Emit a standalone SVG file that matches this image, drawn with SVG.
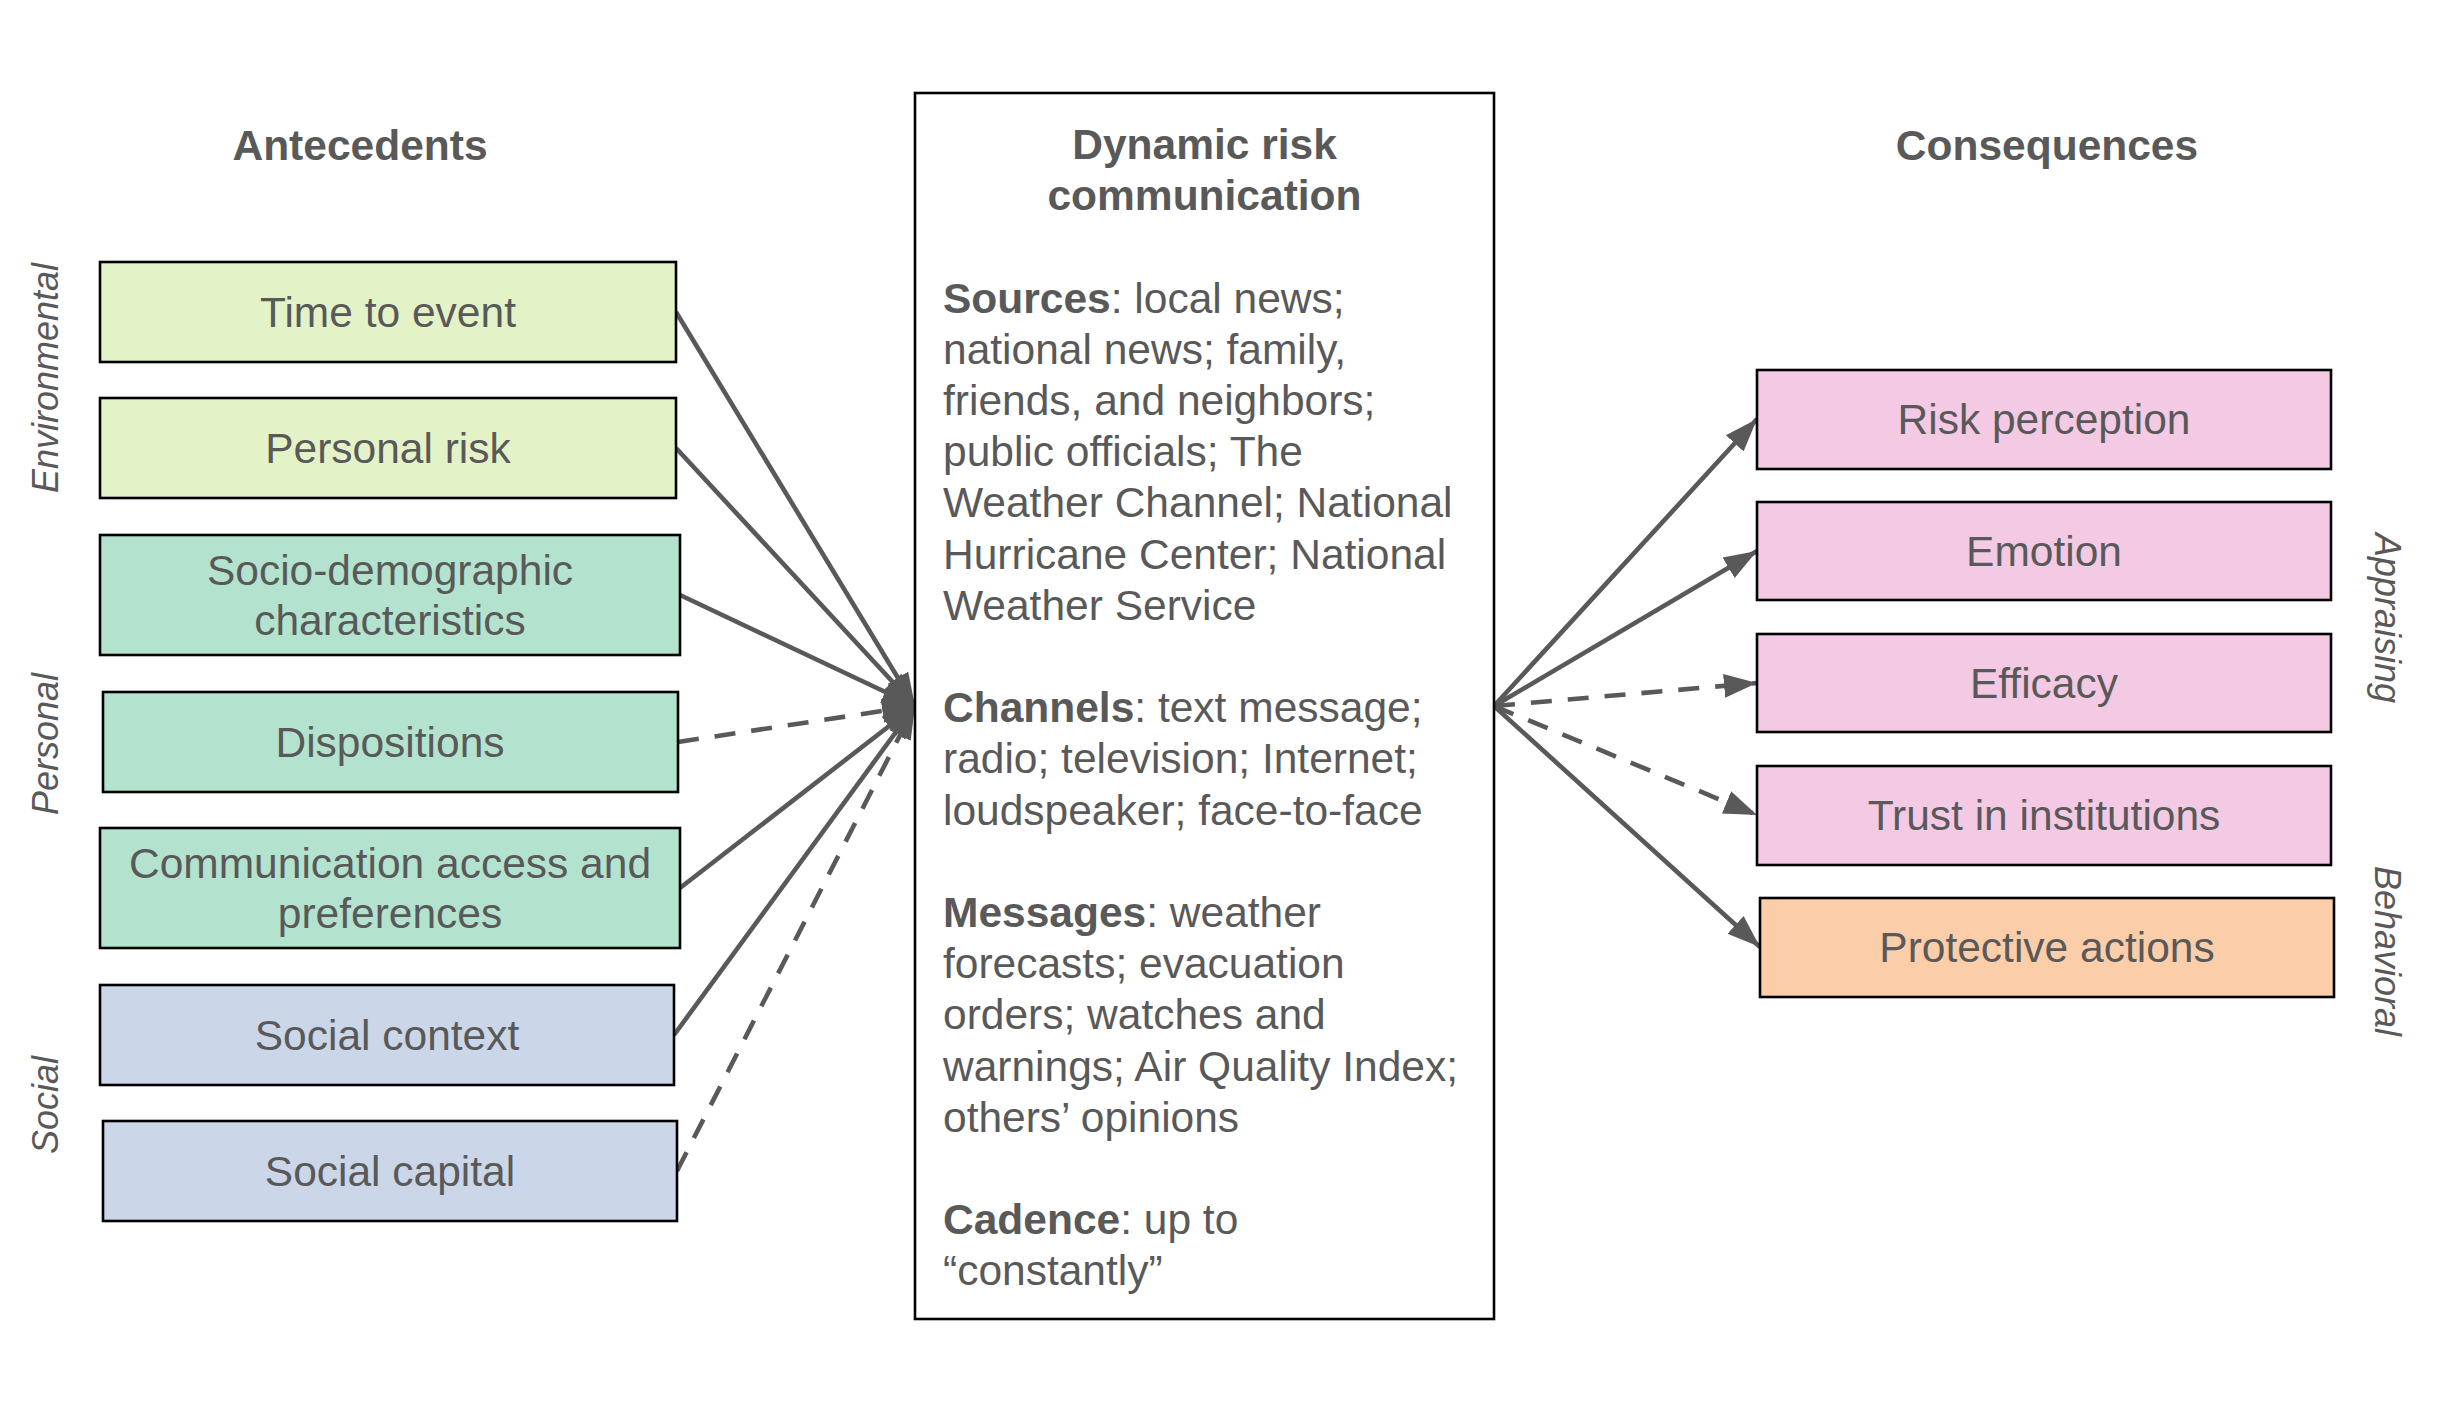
<svg xmlns="http://www.w3.org/2000/svg" width="2441" height="1406" viewBox="0 0 2441 1406">
<style>
  .box { stroke: #000; stroke-width: 2.6; }
  .env { fill: #e4f3c7; }
  .per { fill: #b3e3ce; }
  .soc { fill: #cbd6e8; }
  .app { fill: #f4c9e4; }
  .beh { fill: #fccda9; }
  .t { font-family: "Liberation Sans", Arial, sans-serif; font-size: 42.5px; fill: #595959; }
  .c { text-anchor: middle; }
  .b { font-weight: bold; }
  .lab { font-family: "Liberation Sans", Arial, sans-serif; font-size: 36px; font-style: italic; fill: #595959; text-anchor: middle; }
  .ln { stroke: #595959; stroke-width: 4.6; fill: none; marker-end: url(#ah); }
  .d { stroke-dasharray: 21 16; }
</style>
<defs>
  <marker id="ah" markerUnits="userSpaceOnUse" markerWidth="34" markerHeight="26" refX="33" refY="12" orient="auto" viewBox="0 0 34 24">
    <path d="M0,0 L33,12 L0,24 z" fill="#595959"/>
  </marker>
</defs>
<rect width="2441" height="1406" fill="#fff"/>

<g id="headings">
  <text class="t c b" x="360" y="160">Antecedents</text>
  <text class="t c b" x="2047" y="160">Consequences</text>
</g>

<g id="category-labels">
  <text class="lab" transform="translate(58,378) rotate(-90)">Environmental</text>
  <text class="lab" transform="translate(58,744) rotate(-90)">Personal</text>
  <text class="lab" transform="translate(58,1105) rotate(-90)">Social</text>
  <text class="lab" transform="translate(2375,618) rotate(90)">Appraising</text>
  <text class="lab" transform="translate(2375,951) rotate(90)">Behavioral</text>
</g>

<g id="connectors">
  <line class="ln" x1="676" y1="312" x2="915" y2="706"/>
  <line class="ln" x1="676" y1="448" x2="915" y2="706"/>
  <line class="ln" x1="680" y1="595" x2="915" y2="706"/>
  <line class="ln d" x1="678" y1="742" x2="915" y2="706"/>
  <line class="ln" x1="680" y1="888" x2="915" y2="706"/>
  <line class="ln" x1="674" y1="1035" x2="915" y2="706"/>
  <line class="ln d" x1="677" y1="1171" x2="915" y2="706"/>
  <line class="ln" x1="1494" y1="706" x2="1757" y2="419"/>
  <line class="ln" x1="1494" y1="706" x2="1757" y2="551"/>
  <line class="ln d" x1="1494" y1="706" x2="1757" y2="683"/>
  <line class="ln d" x1="1494" y1="706" x2="1757" y2="815"/>
  <line class="ln" x1="1494" y1="706" x2="1760" y2="947"/>
</g>

<g id="time-to-event">
  <rect class="box env" x="100" y="262" width="576" height="100"/>
  <text class="t c" x="388" y="327">Time to event</text>
</g>
<g id="personal-risk">
  <rect class="box env" x="100" y="398" width="576" height="100"/>
  <text class="t c" x="388" y="463">Personal risk</text>
</g>
<g id="socio-demographic">
  <rect class="box per" x="100" y="535" width="580" height="120"/>
  <text class="t c" x="390" y="584.5">Socio-demographic</text>
  <text class="t c" x="390" y="635">characteristics</text>
</g>
<g id="dispositions">
  <rect class="box per" x="103" y="692" width="575" height="100"/>
  <text class="t c" x="390" y="757">Dispositions</text>
</g>
<g id="communication-access">
  <rect class="box per" x="100" y="828" width="580" height="120"/>
  <text class="t c" x="390" y="877.5">Communication access and</text>
  <text class="t c" x="390" y="928">preferences</text>
</g>
<g id="social-context">
  <rect class="box soc" x="100" y="985" width="574" height="100"/>
  <text class="t c" x="387" y="1050">Social context</text>
</g>
<g id="social-capital">
  <rect class="box soc" x="103" y="1121" width="574" height="100"/>
  <text class="t c" x="390" y="1186">Social capital</text>
</g>

<g id="dynamic-risk-communication">
  <rect x="915" y="93" width="579" height="1226" fill="#fff" stroke="#000" stroke-width="2.6"/>
  <text class="t c b" x="1204.5" y="159">Dynamic risk</text>
  <text class="t c b" x="1204.5" y="210.2">communication</text>
  <text class="t" x="943" y="312.6"><tspan class="b">Sources</tspan>: local news;</text>
  <text class="t" x="943" y="363.8">national news; family,</text>
  <text class="t" x="943" y="415">friends, and neighbors;</text>
  <text class="t" x="943" y="466.2">public officials; The</text>
  <text class="t" x="943" y="517.4">Weather Channel; National</text>
  <text class="t" x="943" y="568.6">Hurricane Center; National</text>
  <text class="t" x="943" y="619.8">Weather Service</text>
  <text class="t" x="943" y="722.2"><tspan class="b">Channels</tspan>: text message;</text>
  <text class="t" x="943" y="773.4">radio; television; Internet;</text>
  <text class="t" x="943" y="824.6">loudspeaker; face-to-face</text>
  <text class="t" x="943" y="927"><tspan class="b">Messages</tspan>: weather</text>
  <text class="t" x="943" y="978.2">forecasts; evacuation</text>
  <text class="t" x="943" y="1029.4">orders; watches and</text>
  <text class="t" x="943" y="1080.6">warnings; Air Quality Index;</text>
  <text class="t" x="943" y="1131.8">others’ opinions</text>
  <text class="t" x="943" y="1234.2"><tspan class="b">Cadence</tspan>: up to</text>
  <text class="t" x="943" y="1285.4">“constantly”</text>
</g>

<g id="risk-perception">
  <rect class="box app" x="1757" y="370" width="574" height="99"/>
  <text class="t c" x="2044" y="434">Risk perception</text>
</g>
<g id="emotion">
  <rect class="box app" x="1757" y="502" width="574" height="98"/>
  <text class="t c" x="2044" y="566">Emotion</text>
</g>
<g id="efficacy">
  <rect class="box app" x="1757" y="634" width="574" height="98"/>
  <text class="t c" x="2044" y="698">Efficacy</text>
</g>
<g id="trust-in-institutions">
  <rect class="box app" x="1757" y="766" width="574" height="99"/>
  <text class="t c" x="2044" y="830">Trust in institutions</text>
</g>
<g id="protective-actions">
  <rect class="box beh" x="1760" y="898" width="574" height="99"/>
  <text class="t c" x="2047" y="962">Protective actions</text>
</g>
</svg>
